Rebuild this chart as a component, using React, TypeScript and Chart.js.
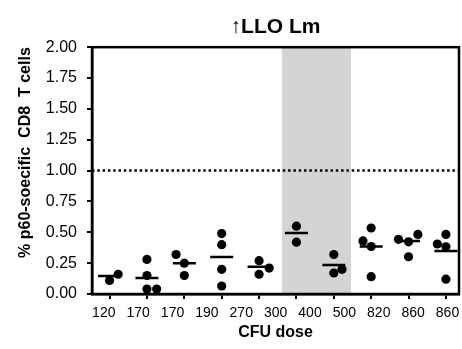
import React, { useEffect, useRef } from "react";
import { Chart, registerables } from "chart.js";

Chart.register(...registerables);

const FONT = "'Liberation Sans', Arial, Helvetica, sans-serif";

// Tick labels under the axis (CFU dose)
const doseLabels = ["120", "170", "170", "190", "270", "300", "400", "500", "820", "860", "860"];
// Group positions on the x axis (one per mouse group)
const groupPositions = [1, 2, 3, 4, 5, 6, 7, 8, 9, 10];
// Individual values per group (% p60-specific CD8 T cells)
const groupValues = [
  [0.11, 0.16],
  [0.28, 0.15, 0.04, 0.04],
  [0.32, 0.25, 0.15],
  [0.49, 0.4, 0.2, 0.065],
  [0.27, 0.21, 0.16],
  [0.55, 0.42],
  [0.32, 0.2, 0.17],
  [0.535, 0.43, 0.385, 0.14],
  [0.443, 0.423, 0.483, 0.302],
  [0.483, 0.405, 0.383, 0.12],
];
// Horizontal spread of the dots inside a group (in group units)
const groupJitter = [
  [0, 0.23],
  [0, 0, 0, 0.26],
  [-0.22, 0, 0],
  [0, 0, 0, 0],
  [0, 0.27, 0],
  [0, 0],
  [0, 0.22, 0],
  [0, -0.22, 0, 0],
  [-0.27, 0, 0.25, 0],
  [0, -0.23, 0, 0],
];
// Median bars per group
const groupMedians = [0.146, 0.13, 0.25, 0.3, 0.22, 0.495, 0.235, 0.385, 0.43, 0.348];
// Dotted reference level
const referenceLevel = 1.0;
// Grey highlighted region (x range, group units)
const highlightRange = [5.61, 7.46];
// Axis ranges
const xRange = [0.53, 10.35];
const labelRange = [-0.343, 10.335];
const yRange = [0, 2];
const yStep = 0.25;

const pointData = groupValues.flatMap((vals, g) =>
  vals.map((v, i) => ({ x: groupPositions[g] + groupJitter[g][i], y: v }))
);
const medianData = groupMedians.map((m, g) => ({ x: groupPositions[g], y: m }));

const framePlugin = {
  id: "frameAndBand",
  beforeDatasetsDraw(chart: any) {
    const { ctx, chartArea, scales } = chart;
    const x0 = scales.x.getPixelForValue(highlightRange[0]);
    const x1 = scales.x.getPixelForValue(highlightRange[1]);
    ctx.save();
    ctx.fillStyle = "#d4d4d4";
    ctx.fillRect(x0, chartArea.top, x1 - x0, chartArea.bottom - chartArea.top);
    ctx.restore();
  },
  afterDatasetsDraw(chart: any) {
    const { ctx, chartArea } = chart;
    ctx.save();
    ctx.strokeStyle = "#000";
    ctx.lineWidth = 2.5;
    ctx.strokeRect(chartArea.left, chartArea.top, chartArea.right - chartArea.left, chartArea.bottom - chartArea.top);
    ctx.restore();
  },
};

const noSidePadding = (s: any) => {
  s.paddingLeft = 0;
  s.paddingRight = 0;
};

export default function App() {
  const canvasRef = useRef<HTMLCanvasElement | null>(null);

  useEffect(() => {
    if (!canvasRef.current) return;
    Chart.defaults.font.family = FONT;
    Chart.defaults.color = "#000";
    const chart = new Chart(canvasRef.current, {
      type: "scatter",
      data: {
        datasets: [
          {
            label: "median",
            data: medianData,
            pointStyle: "line",
            pointRadius: 11.5,
            pointHoverRadius: 11.5,
            pointBorderWidth: 2.5,
            pointBorderColor: "#000",
            borderColor: "#000",
            backgroundColor: "#000",
            order: 0,
          } as any,
          {
            label: "mice",
            data: pointData,
            pointRadius: 4.6,
            pointHoverRadius: 4.6,
            pointBorderWidth: 0,
            backgroundColor: "#000",
            borderColor: "#000",
            order: 1,
          },
          {
            type: "line",
            label: "reference",
            data: [
              { x: xRange[0], y: referenceLevel },
              { x: xRange[1], y: referenceLevel },
            ],
            borderColor: "#000",
            borderWidth: 2.5,
            borderDash: [2.5, 2.8],
            pointRadius: 0,
            order: 2,
          } as any,
        ],
      },
      options: {
        animation: false,
        responsive: true,
        maintainAspectRatio: false,
        events: [],
        layout: { autoPadding: false, padding: { left: 0, right: 3, top: 0, bottom: 0 } },
        plugins: {
          legend: { display: false },
          tooltip: { enabled: false },
          title: {
            display: true,
            text: "↑LLO Lm",
            fullSize: false,
            color: "#000",
            font: { size: 21, weight: "bold", family: FONT },
            padding: { top: 15, bottom: 7 },
          },
        },
        scales: {
          x: {
            type: "linear",
            position: "bottom",
            weight: 0,
            min: xRange[0],
            max: xRange[1],
            afterBuildTicks: (s: any) => {
              s.ticks = groupPositions.map((v) => ({ value: v }));
            },
            afterFit: (s: any) => {
              s.height = 5;
              noSidePadding(s);
            },
            ticks: { display: false },
            grid: { drawOnChartArea: false, drawTicks: true, tickLength: 5, color: "#000", lineWidth: 2 },
            border: { display: true, color: "#000", width: 2.5 },
          },
          x2: {
            type: "linear",
            position: "bottom",
            weight: 1,
            min: labelRange[0],
            max: labelRange[1],
            afterBuildTicks: (s: any) => {
              s.ticks = doseLabels.map((_, i) => ({ value: i }));
            },
            afterFit: (s: any) => {
              s.height = 50;
              noSidePadding(s);
            },
            ticks: {
              autoSkip: false,
              maxRotation: 0,
              padding: 6,
              color: "#000",
              font: { size: 14, family: FONT },
              callback: (v: any) => doseLabels[v as number],
            },
            grid: { display: false, drawTicks: false },
            border: { display: false },
            title: {
              display: true,
              text: "CFU dose",
              color: "#000",
              font: { size: 16, weight: "bold", family: FONT },
              padding: { top: 0, bottom: 7 },
            },
          },
          y: {
            type: "linear",
            min: yRange[0],
            max: yRange[1],
            afterFit: (s: any) => {
              s.width = 92;
            },
            ticks: {
              stepSize: yStep,
              padding: 10,
              color: "#000",
              font: { size: 16, family: FONT },
              callback: (v: any) => Number(v).toFixed(2),
            },
            grid: { drawOnChartArea: false, drawTicks: true, tickLength: 5, color: "#000", lineWidth: 2 },
            border: { display: true, color: "#000", width: 2.5 },
            title: {
              display: true,
              text: "% p60-soecific  CD8  T cells",
              align: "end",
              color: "#000",
              font: { size: 16, weight: "bold", family: FONT },
              padding: { top: 16, bottom: 0 },
            },
          },
        },
      } as any,
      plugins: [framePlugin],
    });
    return () => chart.destroy();
  }, []);

  return (
    <div style={{ position: "fixed", left: 0, top: 0, width: 462, height: 349, background: "#fff" }}>
      <canvas ref={canvasRef} />
    </div>
  );
}
